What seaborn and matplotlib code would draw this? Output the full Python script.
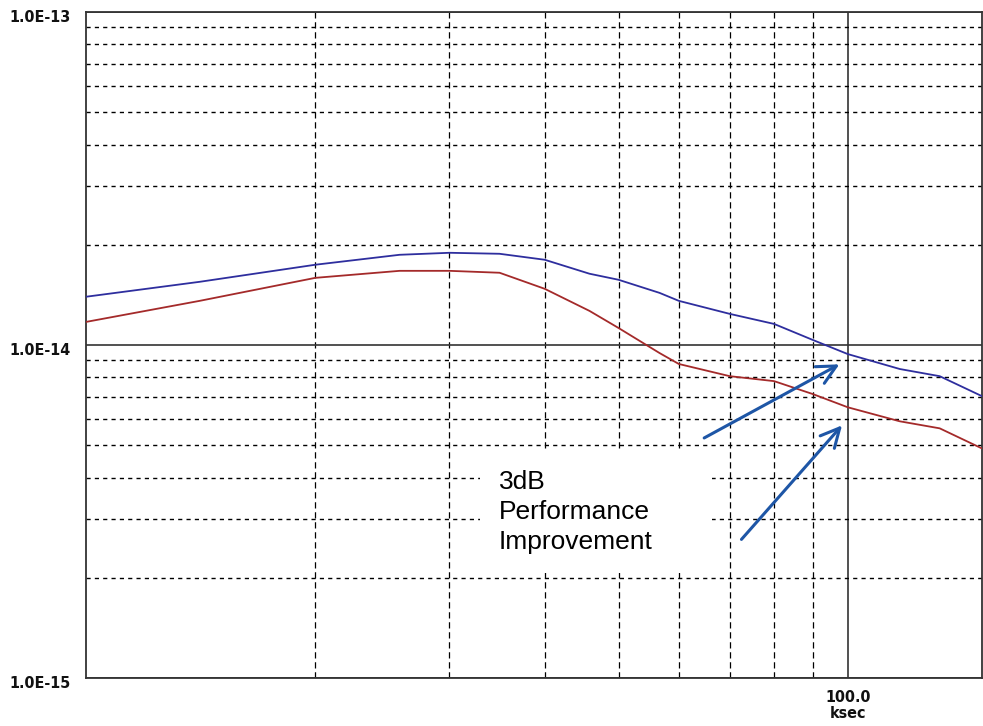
import numpy as np
import pandas as pd
import matplotlib
matplotlib.use("Agg")
import matplotlib.pyplot as plt
import matplotlib.transforms as mtransforms
import seaborn as sns
from matplotlib.patches import Rectangle

# averaging time (ksec) and the two stability curves
time_ks = [10, 14.1, 20, 25.8, 30, 34.9, 40, 45.8, 50, 56.6, 60, 70, 80, 90, 100, 117, 132, 150]
blue_vals = [1.396e-14, 1.548e-14, 1.742e-14, 1.866e-14, 1.892e-14, 1.879e-14, 1.803e-14, 1.637e-14,
             1.570e-14, 1.434e-14, 1.357e-14, 1.240e-14, 1.157e-14, 1.035e-14, 9.39e-15, 8.47e-15,
             8.06e-15, 7.02e-15]
red_vals = [1.173e-14, 1.357e-14, 1.591e-14, 1.670e-14, 1.670e-14, 1.648e-14, 1.475e-14, 1.266e-14,
            1.125e-14, 9.46e-15, 8.77e-15, 8.06e-15, 7.79e-15, 7.12e-15, 6.50e-15, 5.90e-15,
            5.62e-15, 4.89e-15]

y_ticks = [1e-15, 1e-14, 1e-13]
y_labels = ["1.0E-15", "1.0E-14", "1.0E-13"]
x_ticks = [100]
x_labels = ["100.0\nksec"]

note = "3dB\nPerformance\nImprovement"

df = pd.DataFrame({
    "t": time_ks * 2,
    "val": blue_vals + red_vals,
    "curve": ["blue"] * len(time_ks) + ["red"] * len(time_ks),
})

sns.set_style("white")

fig = plt.figure(figsize=(9.83, 7.26), dpi=100)
ax = fig.add_axes([86 / 983, 48 / 726, 896 / 983, 666 / 726])

sns.lineplot(data=df, x="t", y="val", hue="curve",
             palette={"blue": "#2E2E9E", "red": "#A42A2A"},
             linewidth=1.3, legend=False, ax=ax, zorder=3)

ax.set_xscale("log")
ax.set_yscale("log")
ax.set_xlim(10, 150)
ax.set_ylim(1e-15, 1e-13)

ax.set_axisbelow(True)
ax.grid(True, which="minor", axis="y", color="black", linestyle=(0, (3, 3)), linewidth=1.0)
ax.grid(True, which="minor", axis="x", color="black", linestyle=(0, (5, 3)), linewidth=0.9)
ax.grid(True, which="major", color="#333333", linestyle="-", linewidth=1.2)

tick_kw = dict(family="DejaVu Sans", fontstretch="condensed", fontweight="bold",
               fontsize=11.5, color="#111111")
ax.set_yticks(y_ticks)
ax.set_yticklabels(y_labels, **tick_kw)
ax.set_xticks(x_ticks)
ax.set_xticklabels(x_labels, linespacing=1.05, **tick_kw)
ax.tick_params(which="both", length=0)
ax.tick_params(axis="y", pad=11)
ax.tick_params(axis="x", pad=9)
shift = mtransforms.ScaledTranslation(0, -4 / 100, fig.dpi_scale_trans)
for lbl in ax.get_yticklabels():
    lbl.set_transform(lbl.get_transform() + shift)
ax.set_xlabel("")
ax.set_ylabel("")

for s in ax.spines.values():
    s.set_color("#333333")
    s.set_linewidth(1.3)

# white box behind the note
ax.add_patch(Rectangle((32.9, 2.06e-15), 66.3 - 32.9, 4.86e-15 - 2.06e-15,
                       facecolor="white", edgecolor="none", zorder=1.5))
ax.text(34.8, 4.2e-15, note, family=["Liberation Sans", "DejaVu Sans"], fontsize=19,
        color="black", va="top", ha="left", linespacing=1.3, zorder=4)

arrow_kw = dict(arrowstyle="->", color="#1E56A6", lw=2.2, mutation_scale=34)
ax.annotate("", xy=(98.2, 8.83e-15), xytext=(64.3, 5.21e-15), arrowprops=arrow_kw, zorder=5)
ax.annotate("", xy=(98.8, 5.82e-15), xytext=(72.1, 2.57e-15), arrowprops=arrow_kw, zorder=5)

fig.savefig("out.png", dpi=100)
